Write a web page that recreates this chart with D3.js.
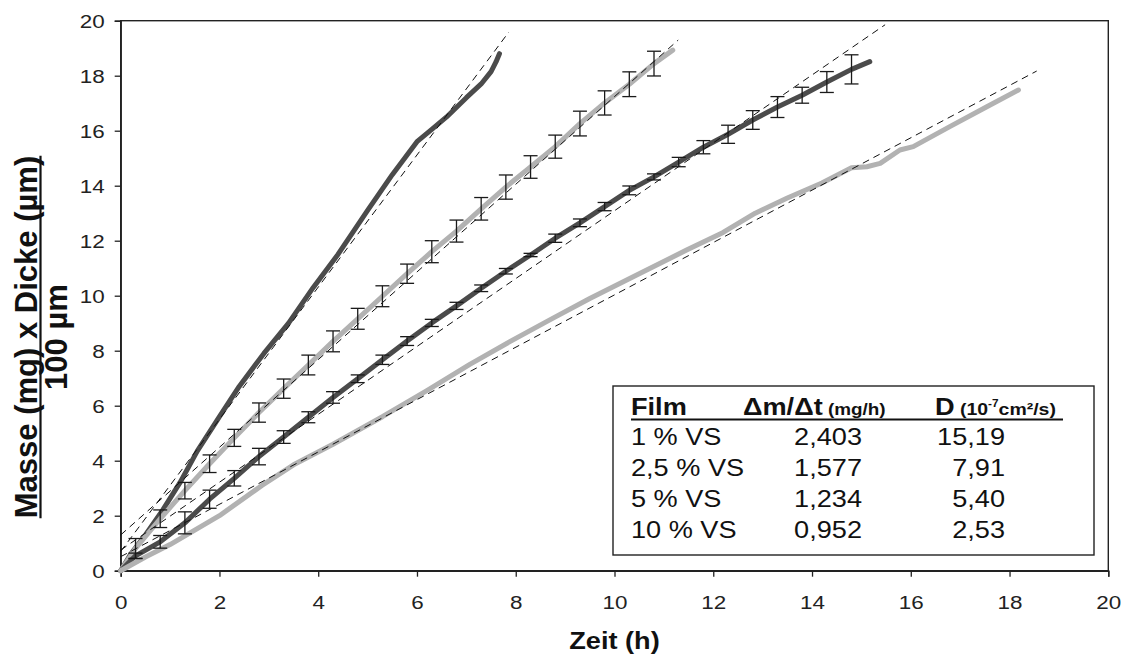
<!DOCTYPE html>
<html>
<head>
<meta charset="utf-8">
<script src="https://cdn.jsdelivr.net/npm/d3@7"></script>
<style>
  html, body { margin: 0; padding: 0; background: #fff; }
  svg { display: block; font-family: "Liberation Sans", Arial, sans-serif; }
</style>
</head>
<body>
<svg id="chart" width="1126" height="660"></svg>
<script>
// ---------------- data ----------------
const xTicks = [0, 2, 4, 6, 8, 10, 12, 14, 16, 18, 20];
const yTicks = [0, 2, 4, 6, 8, 10, 12, 14, 16, 18, 20];

// 1 % VS (dark, no error bars)
const s1Time = [0, 0.2, 0.5, 0.85, 1.2, 1.55, 2.0, 2.4, 2.9, 3.4, 3.9, 4.4, 5.0, 5.5, 6.0, 6.3, 6.6, 7.0, 7.3, 7.5, 7.6, 7.67];
const s1Mass = [0, 0.6, 1.3, 2.2, 3.2, 4.35, 5.6, 6.7, 7.9, 9.0, 10.3, 11.5, 13.1, 14.4, 15.6, 16.05, 16.5, 17.2, 17.7, 18.15, 18.5, 18.8];

// 2,5 % VS (light, error bars)
const s2Time = [0, 0.3, 0.8, 1.3, 1.8, 2.3, 2.8, 3.3, 3.8, 4.3, 4.8, 5.3, 5.8, 6.3, 6.8, 7.3, 7.8, 8.3, 8.8, 9.3, 9.8, 10.3, 10.8, 11.18];
const s2Mass = [0, 0.81, 1.89, 2.91, 3.89, 4.83, 5.75, 6.62, 7.48, 8.34, 9.16, 9.98, 10.8, 11.6, 12.35, 13.16, 13.95, 14.68, 15.42, 16.26, 17.01, 17.69, 18.44, 18.93];
const s2Err  = [0, 0.36, 0.32, 0.30, 0.32, 0.31, 0.35, 0.35, 0.36, 0.38, 0.38, 0.38, 0.35, 0.40, 0.40, 0.41, 0.44, 0.41, 0.42, 0.45, 0.44, 0.45, 0.45, 0];

// 5 % VS (dark, error bars)
const s3Time = [0, 0.3, 0.8, 1.3, 1.8, 2.3, 2.8, 3.3, 3.8, 4.3, 4.8, 5.3, 5.8, 6.3, 6.8, 7.3, 7.8, 8.3, 8.8, 9.3, 9.8, 10.3, 10.8, 11.3, 11.8, 12.3, 12.8, 13.3, 13.8, 14.3, 14.8, 15.17];
const s3Mass = [0, 0.54, 1.05, 1.74, 2.6, 3.36, 4.15, 4.86, 5.58, 6.3, 6.98, 7.67, 8.35, 9.01, 9.63, 10.27, 10.89, 11.48, 12.09, 12.65, 13.24, 13.83, 14.32, 14.86, 15.40, 15.87, 16.39, 16.86, 17.29, 17.77, 18.23, 18.51];
const s3Err  = [0, 0.1, 0.23, 0.4, 0.33, 0.28, 0.3, 0.23, 0.2, 0.21, 0.14, 0.17, 0.16, 0.13, 0.13, 0.12, 0.1, 0.06, 0.15, 0.14, 0.15, 0.16, 0.11, 0.17, 0.24, 0.33, 0.34, 0.38, 0.29, 0.38, 0.53, 0];

// 10 % VS (light, no error bars)
const s4Time = [0, 0.5, 1.0, 2.0, 2.86, 3.5, 4.3, 5.3, 6.2, 7.07, 7.88, 8.69, 9.5, 10.5, 11.46, 12.2, 12.85, 13.5, 14.2, 14.8, 15.11, 15.38, 15.78, 16.05, 16.79, 17.54, 18.18];
const s4Mass = [0, 0.5, 0.95, 2.0, 3.1, 3.85, 4.6, 5.6, 6.55, 7.5, 8.33, 9.12, 9.9, 10.8, 11.66, 12.3, 13.0, 13.55, 14.1, 14.65, 14.69, 14.81, 15.3, 15.42, 16.15, 16.87, 17.48];

// linear fits (dashed): value at t = 0, slope in plot units, last time
const fitIntercept = [0.70, 1.30, 0.75, 0.51];
const fitSlope     = [2.403, 1.594, 1.234, 0.952];
const fitEnd       = [7.86, 11.29, 15.48, 18.55];

// table
const tableFilm = ["1 % VS", "2,5 % VS", "5 % VS", "10 % VS"];
const tableRate = ["2,403", "1,577", "1,234", "0,952"];
const tableDiff = ["15,19", "7,91", "5,40", "2,53"];

// ---------------- drawing ----------------
const DARK = "#4b4b4b", LIGHT = "#b2b2b2", INK = "#1a1a1a";
const SX = 1.18; // horizontal glyph stretch of the original
const svg = d3.select("#chart");

const x = d3.scaleLinear().domain([0, 20]).range([120.7, 1108.3]);
const y = d3.scaleLinear().domain([0, 20]).range([570.7, 20.7]);

// frame
svg.append("rect")
  .attr("x", x(0)).attr("y", y(20))
  .attr("width", x(20) - x(0)).attr("height", y(0) - y(20))
  .attr("fill", "none").attr("stroke", "#222").attr("stroke-width", 1.4);

// axes
const xAxis = svg.append("g").attr("transform", `translate(0,${y(0)})`)
  .call(d3.axisBottom(x).tickValues(xTicks).tickSize(6).tickFormat(d3.format("d")));
const yAxis = svg.append("g").attr("transform", `translate(${x(0)},0)`)
  .call(d3.axisLeft(y).tickValues(yTicks).tickSize(6).tickFormat(d3.format("d")));
[xAxis, yAxis].forEach(a => {
  a.select(".domain").attr("stroke", "#222").attr("stroke-width", 1.4);
  a.selectAll(".tick line").attr("stroke", "#222").attr("stroke-width", 1.3);
  a.selectAll(".tick text").attr("font-size", 19).attr("fill", "#222")
    .attr("font-family", "Liberation Sans, Arial, sans-serif");
});
xAxis.selectAll(".tick text").attr("y", 0).attr("dy", 0)
  .attr("transform", `translate(0,38.6) scale(${SX},1)`);
yAxis.selectAll(".tick text").attr("x", 0).attr("dy", "0.35em")
  .attr("transform", `translate(-16,0) scale(${SX},1)`);

// helper to build point arrays
const pts = (xs, ys) => xs.map((t, i) => [t, ys[i]]);
const line = d3.line().x(d => x(d[0])).y(d => y(d[1]));

const series = [
  { data: pts(s1Time, s1Mass), color: DARK },
  { data: pts(s2Time, s2Mass), color: LIGHT },
  { data: pts(s3Time, s3Mass), color: DARK },
  { data: pts(s4Time, s4Mass), color: LIGHT }
];

svg.append("g").selectAll("path").data(series).join("path")
  .attr("d", d => line(d.data))
  .attr("fill", "none")
  .attr("stroke", d => d.color)
  .attr("stroke-width", 5)
  .attr("stroke-linecap", "round")
  .attr("stroke-linejoin", "round");

// dashed fit lines
const fits = fitSlope.map((m, i) => [[0, fitIntercept[i]], [fitEnd[i], fitIntercept[i] + m * fitEnd[i]]]);
svg.append("g").selectAll("path").data(fits).join("path")
  .attr("d", d => line(d))
  .attr("fill", "none").attr("stroke", "#111")
  .attr("stroke-width", 1).attr("stroke-dasharray", "7,5");

// error bars
function errorBars(xs, ys, es) {
  const g = svg.append("g").attr("stroke", INK).attr("stroke-width", 1.3).attr("fill", "none");
  xs.forEach((t, i) => {
    if (!es[i]) return;
    const cx = x(t), y1 = y(ys[i] + es[i]), y2 = y(ys[i] - es[i]);
    g.append("line").attr("x1", cx).attr("x2", cx).attr("y1", y1).attr("y2", y2);
    g.append("line").attr("x1", cx - 7).attr("x2", cx + 7).attr("y1", y1).attr("y2", y1);
    g.append("line").attr("x1", cx - 7).attr("x2", cx + 7).attr("y1", y2).attr("y2", y2);
  });
}
errorBars(s2Time, s2Mass, s2Err);
errorBars(s3Time, s3Mass, s3Err);

// text helper
function stext(parent, px, py, str, size, weight, anchor) {
  return parent.append("text")
    .attr("transform", `translate(${px},${py}) scale(${SX},1)`)
    .attr("font-size", size).attr("font-weight", weight || "normal")
    .attr("text-anchor", anchor || "start").attr("fill", "#111")
    .text(str);
}

// x-axis title
stext(svg, (x(0) + x(20)) / 2, 649, "Zeit (h)", 23, "bold", "middle");

// y-axis title (fraction)
const yt = svg.append("g").attr("transform", `translate(37,337) rotate(-90)`);
const t1 = yt.append("text").attr("text-anchor", "middle").attr("font-size", 31).attr("font-weight", "bold")
  .attr("fill", "#111").text("Masse (mg) x Dicke (µm)");
const L = t1.node().getComputedTextLength();
yt.append("line").attr("x1", -L / 2).attr("x2", L / 2).attr("y1", 3.5).attr("y2", 3.5)
  .attr("stroke", "#111").attr("stroke-width", 2.2);
yt.append("text").attr("text-anchor", "middle").attr("font-size", 31).attr("font-weight", "bold")
  .attr("fill", "#111").attr("y", 30).text("100 µm");

// table box
const tb = svg.append("g");
tb.append("rect").attr("x", 613).attr("y", 386).attr("width", 481).attr("height", 169)
  .attr("fill", "#fff").attr("stroke", "#222").attr("stroke-width", 1.4);

// header
stext(tb, 631, 415, "Film", 23, "bold");
const h2 = stext(tb, 743, 415, "", 23, "bold");
h2.append("tspan").text("Δm/Δt");
h2.append("tspan").attr("font-size", 16).text(" (mg/h)");
const h3 = stext(tb, 935, 415, "", 23, "bold");
h3.append("tspan").text("D");
h3.append("tspan").attr("font-size", 16.5).text(" (10");
h3.append("tspan").attr("font-size", 10).attr("dy", -8).text("-7");
h3.append("tspan").attr("font-size", 16.5).attr("dy", 8).text("cm²/s)");
tb.append("line").attr("x1", 631).attr("x2", 1063).attr("y1", 419.5).attr("y2", 419.5)
  .attr("stroke", "#111").attr("stroke-width", 2);

const rowY = [445, 476, 507, 538];
tableFilm.forEach((f, i) => {
  stext(tb, 631, rowY[i], f, 23, "normal");
  stext(tb, 862, rowY[i], tableRate[i], 23, "normal", "end");
  stext(tb, 1005, rowY[i], tableDiff[i], 23, "normal", "end");
});
</script>
</body>
</html>
